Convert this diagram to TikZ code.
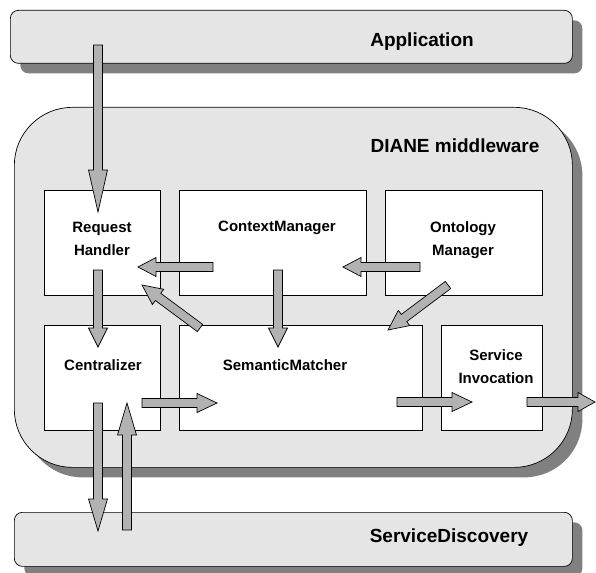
\documentclass[tikz,border=0pt]{standalone}
\usepackage{fontspec}
\setmainfont{Liberation Sans}
\usetikzlibrary{calc,shadows}

% fat outlined arrow: [head length]{tail}{tip}
\newcommand\blockarrow[3][20pt]{%
  \coordinate (ba-h) at ($(#3)!#1!(#2)$);
  \draw[barrow] ($(#2)!4.5pt!90:(#3)$) -- ($(ba-h)!4.5pt!90:(#3)$) -- ($(ba-h)!9.5pt!90:(#3)$)
    -- (#3) -- ($(ba-h)!9.5pt!-90:(#3)$) -- ($(ba-h)!4.5pt!-90:(#3)$) -- ($(#2)!4.5pt!-90:(#3)$) -- cycle;}

\begin{document}
\begin{tikzpicture}
  [x=1pt, y=-1pt,
  bar/.style={draw, fill=black!10, rounded corners=8pt, anchor=north west, inner sep=0pt, line width=0.7pt,
    drop shadow={shadow xshift=10pt, shadow yshift=-10pt, fill=black!50, opacity=1}},
  layer/.style={bar, rounded corners=58pt},
  comp/.style={draw, fill=white, anchor=north west, inner sep=0pt, line width=0.7pt, minimum height=105pt},
  title/.style={font=\fontsize{19}{22}\selectfont\bfseries, anchor=base, inner sep=0pt},
  ctext/.style={font=\fontsize{15}{22.5}\selectfont\bfseries, align=center, anchor=base, inner sep=0pt},
  barrow/.style={draw, fill=black!30, line width=0.7pt, line join=miter}]
  \useasboundingbox (0,0) rectangle (596,572);

  % layers
  \node[bar, minimum width=562pt, minimum height=53pt] (app) at (10,10) {};
  \node[layer, minimum width=558pt, minimum height=360pt] (diane) at (14,107) {};
  \node[bar, minimum width=558pt, minimum height=54pt] (sd) at (14,512) {};
  \node[title] (app-t) at (422,47) {Application};
  \node[title] (diane-t) at (455,153) {DIANE middleware};
  \node[title] (sd-t) at (449,542) {ServiceDiscovery};

  % components
  \node[comp, minimum width=116pt] (rh) at (44,190) {};
  \node[comp, minimum width=187pt] (cm) at (179,190) {};
  \node[comp, minimum width=157pt] (om) at (385,190) {};
  \node[comp, minimum width=116pt] (cent) at (44,325) {};
  \node[comp, minimum width=243pt] (sm) at (179,325) {};
  \node[comp, minimum width=101pt] (si) at (441,325) {};
  \node[ctext] (rh-t) at (102,255) {Request\\Handler};
  \node[ctext] (cm-t) at (277,231) {ContextManager};
  \node[ctext] (om-t) at (463,255) {Ontology\\Manager};
  \node[ctext] (cent-t) at (103,370) {Centralizer};
  \node[ctext] (sm-t) at (285,370) {SemanticMatcher};
  \node[ctext] (si-t) at (496,383) {Service\\Invocation};

  % arrow ends
  \coordinate (app-out) at (98,45);
  \coordinate (rh-in) at (98,212);
  \coordinate (rh-e) at (138,267);
  \coordinate (rh-se) at (142,285);
  \coordinate (rh-s) at (98,270);
  \coordinate (cm-w) at (213,267);
  \coordinate (cm-e) at (343,267);
  \coordinate (cm-s) at (278,270);
  \coordinate (om-w) at (420,267);
  \coordinate (om-sw) at (448,285);
  \coordinate (cent-n) at (98,347);
  \coordinate (cent-e) at (142,403);
  \coordinate (cent-s) at (98,403);
  \coordinate (cent-in) at (127,403);
  \coordinate (sm-n) at (278,347);
  \coordinate (sm-nw) at (200,328);
  \coordinate (sm-ne) at (388,330);
  \coordinate (sm-w) at (217,403);
  \coordinate (sm-e) at (397,402);
  \coordinate (si-w) at (472,402);
  \coordinate (si-e) at (527,402);
  \coordinate (out) at (595,402);
  \coordinate (sd-in) at (98,531);
  \coordinate (sd-out) at (127,530);

  % arrows
  \blockarrow[42pt]{app-out}{rh-in}
  \blockarrow[18pt]{cm-w}{rh-e}
  \blockarrow{sm-nw}{rh-se}
  \blockarrow[19pt]{rh-s}{cent-n}
  \blockarrow[19pt]{cm-s}{sm-n}
  \blockarrow[18pt]{om-w}{cm-e}
  \blockarrow{om-sw}{sm-ne}
  \blockarrow{cent-e}{sm-w}
  \blockarrow{sm-e}{si-w}
  \blockarrow[17pt]{si-e}{out}
  \blockarrow[32pt]{cent-s}{sd-in}
  \blockarrow[32pt]{sd-out}{cent-in}
\end{tikzpicture}
\end{document}
